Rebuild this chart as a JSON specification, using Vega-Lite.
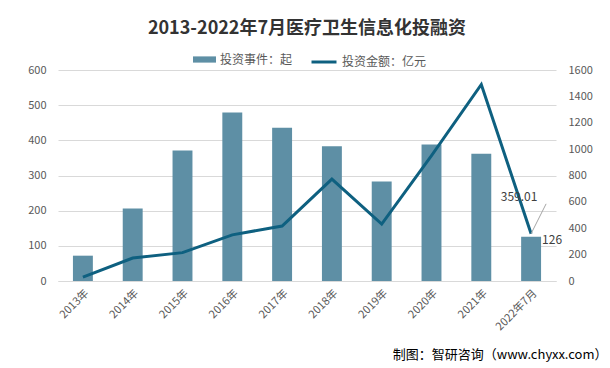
{
  "$schema": "https://vega.github.io/schema/vega-lite/v6.json",
  "autosize": "none",
  "width": 498,
  "height": 211,
  "padding": {"left": 58, "top": 70, "right": 54, "bottom": 87},
  "background": "white",
  "title": {
    "text": "2013-2022年7月医疗卫生信息化投融资",
    "font": "Noto Sans CJK SC",
    "fontSize": 18,
    "fontWeight": "bold",
    "color": "#333333",
    "anchor": "middle",
    "offset": 10
  },
  "config": {
    "font": "Noto Sans CJK SC",
    "view": {"stroke": null},
    "axis": {"labelFont": "Noto Sans CJK SC", "labelColor": "#595959", "labelFontSize": 11, "ticks": false, "domain": false, "grid": false, "labelOverlap": false},
    "legend": {"labelFont": "Noto Sans CJK SC", "labelFontSize": 12, "labelColor": "#595959", "orient": "none", "title": null}
  },
  "data": {
    "values": [
      {"cat": "2013年", "events": 72, "amount": 30},
      {"cat": "2014年", "events": 206, "amount": 174},
      {"cat": "2015年", "events": 371, "amount": 215},
      {"cat": "2016年", "events": 479, "amount": 350},
      {"cat": "2017年", "events": 436, "amount": 417},
      {"cat": "2018年", "events": 383, "amount": 773},
      {"cat": "2019年", "events": 283, "amount": 432},
      {"cat": "2020年", "events": 388, "amount": 950},
      {"cat": "2021年", "events": 362, "amount": 1490},
      {"cat": "2022年7月", "events": 126, "amount": 359.01, "lead": 585}
    ]
  },
  "encoding": {
    "x": {
      "field": "cat", "type": "nominal", "sort": null,
      "scale": {"paddingInner": 0.6, "paddingOuter": 0.3},
      "axis": {
        "labelAngle": -45, "labelPadding": 6, "domain": true, "domainColor": "#D9D9D9",
        "title": "制图：智研咨询（www.chyxx.com）",
        "titleFont": "Noto Sans CJK SC", "titleFontSize": 13, "titleFontWeight": "normal", "titleColor": "#000000",
        "titleAlign": "right", "titleAnchor": null, "titleX": 549, "titleY": 77, "titleBaseline": "alphabetic"
      }
    }
  },
  "layer": [
    {
      "encoding": {
        "y": {"field": "events", "type": "quantitative", "scale": {"domain": [0, 600]},
          "axis": {"values": [0, 100, 200, 300, 400, 500, 600], "grid": true, "gridColor": "#D9D9D9", "labelPadding": 12, "title": null}}
      },
      "layer": [
        {
          "mark": {"type": "bar", "color": "#5E8FA5"},
          "encoding": {
            "fill": {"datum": "投资事件：起", "type": "nominal",
              "scale": {"range": ["#5E8FA5"]},
              "legend": {"symbolType": "M-1,-0.27H1V0.27H-1Z", "symbolSize": 529, "symbolStrokeWidth": 0, "legendX": 135, "legendY": -22}}
          }
        },
        {
          "transform": [{"filter": "datum.cat === '2022年7月'"}],
          "mark": {"type": "text", "align": "left", "baseline": "middle", "dx": 11, "dy": 3, "fontSize": 12, "color": "#404040", "font": "Noto Sans CJK SC"},
          "encoding": {
            "text": {"field": "events", "type": "quantitative"}
          }
        }
      ]
    },
    {
      "encoding": {
        "y": {"field": "amount", "type": "quantitative", "scale": {"domain": [0, 1600]},
          "axis": {"orient": "right", "values": [0, 200, 400, 600, 800, 1000, 1200, 1400, 1600], "format": "d", "labelPadding": 12, "title": null}}
      },
      "layer": [
        {
          "mark": {"type": "line", "strokeWidth": 3},
          "encoding": {
            "stroke": {"datum": "投资金额：亿元", "type": "nominal",
              "scale": {"range": ["#0E6080"]},
              "legend": {"symbolType": "stroke", "symbolSize": 625, "symbolStrokeWidth": 3, "legendX": 252, "legendY": -22}}
          }
        },
        {
          "transform": [{"filter": "datum.cat === '2022年7月'"}],
          "mark": {"type": "rule", "color": "#A6A6A6", "strokeWidth": 1, "x2Offset": 15},
          "encoding": {
            "y2": {"field": "lead"},
            "x2": {"field": "cat"}
          }
        },
        {
          "transform": [{"filter": "datum.cat === '2022年7月'"}],
          "mark": {"type": "text", "align": "center", "baseline": "middle", "dx": -12, "dy": -37, "fontSize": 12, "color": "#404040", "font": "Noto Sans CJK SC"},
          "encoding": {
            "text": {"field": "amount", "type": "quantitative", "format": ".2f"}
          }
        }
      ]
    }
  ],
  "resolve": {"scale": {"y": "independent", "fill": "independent", "stroke": "independent"}, "legend": {"fill": "independent", "stroke": "independent"}}
}
